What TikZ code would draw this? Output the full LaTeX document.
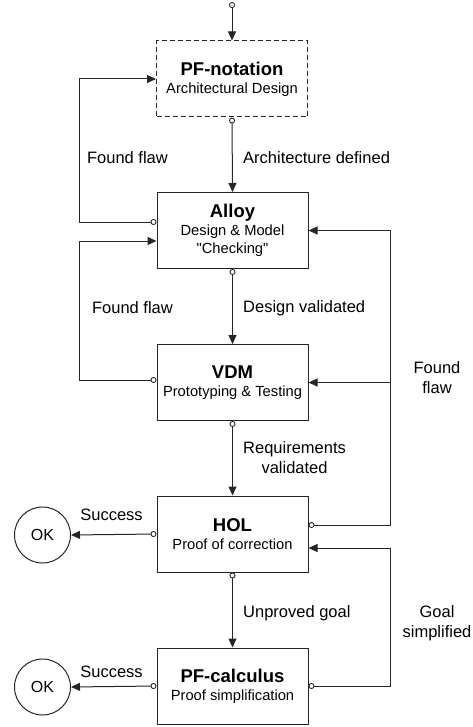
\documentclass[tikz,border=0pt]{standalone}
\usepackage{fontspec}
\setmainfont{Liberation Sans}
\newfontfamily\qfont{Liberation Sans}[Ligatures=TeXOff]
\usetikzlibrary{arrows.meta}
\newcommand{\boxtitle}[1]{{\fontsize{18.5}{22}\selectfont\bfseries #1}}
\newcommand{\dq}{{\qfont"}}
\tikzset{
  box/.style={draw=black!85, line width=1pt, minimum width=151pt, minimum height=76pt,
    inner sep=0pt, align=center, font=\fontsize{14.7}{18}\selectfont},
  dashbox/.style={box, dash pattern=on 5pt off 3pt},
  conn/.style={line width=1pt, draw=black!85,
    {Circle[open,length=6pt,width=6pt,line width=0.9pt]}-{Triangle[length=9pt,width=8pt]}},
  arr/.style={line width=1pt, draw=black!85, -{Triangle[length=9pt,width=8pt]}},
  lbl/.style={font=\fontsize{16.5}{20}\selectfont, align=center, inner sep=0pt},
  okc/.style={circle, draw=black!85, line width=1pt, minimum size=56pt, inner sep=0pt,
    font=\fontsize{16}{19}\selectfont},
}
\begin{document}
\begin{tikzpicture}[x=1pt,y=-1pt]
\useasboundingbox (0,0) rectangle (473,727);
% boxes
\node[dashbox] (pf) at (232,79) {\boxtitle{PF-notation}\\Architectural Design};
\node[box] (alloy) at (232.5,230.5) {\boxtitle{Alloy}\\Design \& Model\\\dq Checking\dq};
\node[box] (vdm) at (232.5,382.5) {\boxtitle{VDM}\\Prototyping \& Testing};
\node[box] (hol) at (232.5,534) {\boxtitle{HOL}\\Proof of correction};
\node[box] (pfc) at (232.5,686) {\boxtitle{PF-calculus}\\Proof simplification};
\node[okc] (ok1) at (42.5,535) {OK};
\node[okc] (ok2) at (42.5,687) {OK};
\coordinate (start) at (232,2);
% main flow
\draw[conn] (start) -- (pf.north);
\draw[conn] (pf.south) -- (alloy.north);
\draw[conn] (alloy.south) -- (vdm.north);
\draw[conn] (vdm.south) -- (hol.north);
\draw[conn] (hol.south) -- (pfc.north);
% success
\draw[conn] (hol.west) -- (ok1.east);
\draw[conn] (pfc.west) -- (ok2.east);
% left loops
\draw[conn] ([yshift=8.5pt]alloy.west) -- ++(-77,0) |- (pf.west);
\draw[conn] ([yshift=2.5pt]vdm.west) -- ++(-77,0) |- ([yshift=-10.5pt]alloy.west);
% right loops
\coordinate (rx) at (390,0);
\coordinate (holin) at ([yshift=-14pt]hol.east);
\draw[conn] ([yshift=9pt]hol.east) -| (rx |- alloy.east) -- (alloy.east);
\draw[arr] (rx |- vdm.east) -- (vdm.east);
\draw[conn] (pfc.east) -| (rx |- holin) -- (holin);
% labels
\node[lbl] (ff1) at (127.5,158) {Found flaw};
\node[lbl, anchor=west] (ad) at (243,158) {Architecture defined};
\node[lbl] (ff2) at (132.5,308) {Found flaw};
\node[lbl, anchor=west] (dv) at (243,308) {Design validated};
\node[lbl] (ff3) at (437,377.5) {Found\\flaw};
\node[lbl, anchor=west] (rv) at (243,458) {Requirements\\validated};
\node[lbl] (s1) at (111.5,515) {Success};
\node[lbl, anchor=west] (ug) at (243,613) {Unproved goal};
\node[lbl] (gs) at (437,623) {Goal\\simplified};
\node[lbl] (s2) at (111.5,672) {Success};
\end{tikzpicture}
\end{document}
